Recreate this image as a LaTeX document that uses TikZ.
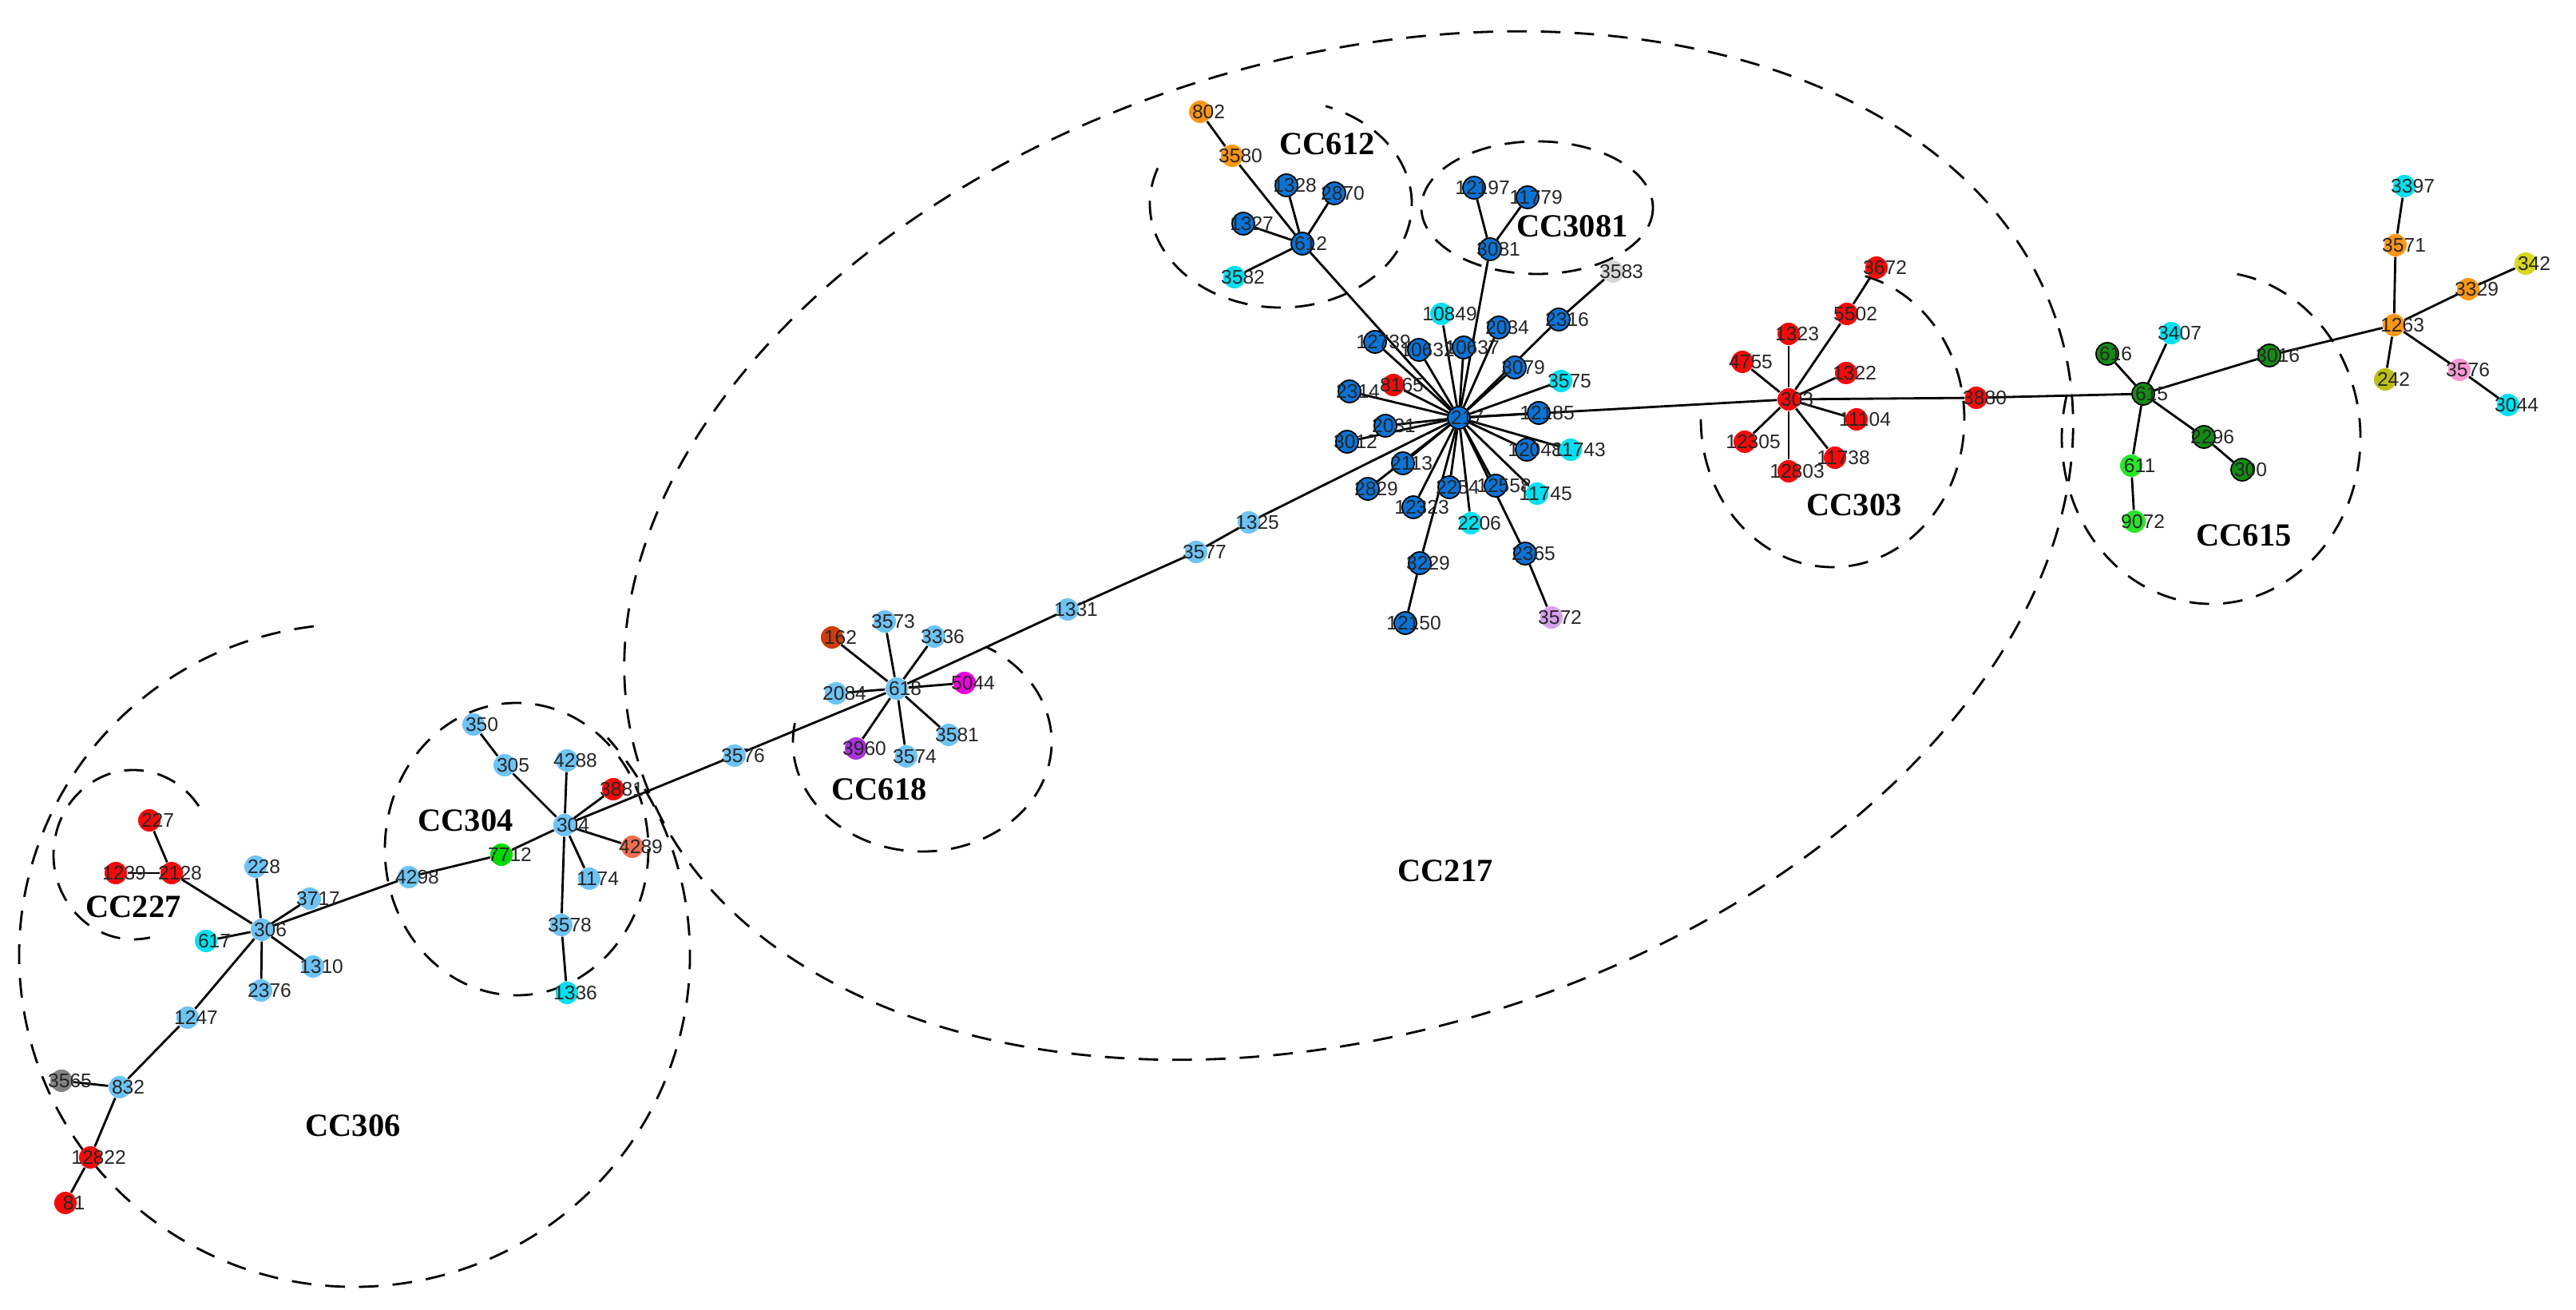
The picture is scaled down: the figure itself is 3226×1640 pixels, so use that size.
\documentclass[tikz,border=0pt]{standalone}
\usepackage{fontspec}
\setmainfont{Liberation Serif}
\newfontfamily\labfont{Liberation Sans}
\usetikzlibrary{backgrounds}
\definecolor{dblue}{RGB}{10,115,215}
\definecolor{lblue}{RGB}{110,195,245}
\definecolor{cyanc}{RGB}{0,225,240}
\definecolor{redc}{RGB}{245,10,10}
\definecolor{orc}{RGB}{255,150,20}
\definecolor{dgreen}{RGB}{20,140,20}
\definecolor{lgreen}{RGB}{40,230,40}
\definecolor{olive}{RGB}{190,190,20}
\definecolor{yel}{RGB}{215,215,30}
\definecolor{pinkc}{RGB}{250,150,210}
\definecolor{magc}{RGB}{240,0,220}
\definecolor{purc}{RGB}{170,50,220}
\definecolor{lilac}{RGB}{215,160,235}
\definecolor{brownred}{RGB}{205,60,10}
\definecolor{salmon}{RGB}{240,110,80}
\definecolor{grayc}{RGB}{130,130,130}
\definecolor{lgray}{RGB}{215,215,215}
\tikzset{
 st/.style={circle,inner sep=0pt,minimum size=0.28cm},
 B/.style={st,fill=dblue,draw=black,line width=0.5pt},
 L/.style={st,fill=lblue},
 C/.style={st,fill=cyanc},
 R/.style={st,fill=redc},
 O/.style={st,fill=orc},
 G/.style={st,fill=dgreen,draw=black,line width=0.5pt},
 LG/.style={st,fill=lgreen},
 lab/.style={font=\labfont\fontsize{7}{8}\selectfont,text=black!85,inner sep=0pt},
 cc/.style={font=\bfseries\fontsize{11.5}{12}\selectfont},
 grp/.style={draw=black,dashed,dash pattern=on 7pt off 5pt,line width=0.8pt},
 ed/.style={draw=black,line width=0.8pt}
}
\newcommand\ST[4]{\node[#3] (#1) at (#2) {};\node[lab] at ([xshift=3pt]#1.center) {#4};}
\begin{document}
\begin{tikzpicture}[x=0.01cm,y=-0.01cm]
\useasboundingbox (0,0) rectangle (3226,1640);
% groups
\draw[grp,rotate around={17:(1689,683)}] (1689,683) ellipse [x radius=930,y radius=610];
\draw[grp] (1604,255) ++(-160:164 and 130) arc[start angle=-160,end angle=-430,x radius=164,y radius=130];
\draw[grp] (1925,260) ellipse [x radius=145,y radius=83];
\draw[grp] (2295,525) ++(-180:165 and 185) arc[start angle=-180,end angle=-440,x radius=165,y radius=185];
\draw[grp] (1155,929) ++(-170:162 and 137) arc[start angle=-170,end angle=-420,x radius=162,y radius=137];
\draw[grp] (647,1063) ellipse [x radius=165,y radius=183];
\draw[grp] (167,1070) ++(-35:100 and 106) arc[start angle=-35,end angle=-282,x radius=100,y radius=106];
\draw[grp] (444,1196) ++(-97:420 and 415) arc[start angle=-97,end angle=-401,x radius=420,y radius=415];
\draw[grp] (2769,548) ++(-80:187 and 208) arc[start angle=-80,end angle=200,x radius=187,y radius=208];
% CC labels
\node[cc] at (1662,180) {CC612};
\node[cc] at (1969,283) {CC3081};
\node[cc] at (2322,632) {CC303};
\node[cc] at (2810,670) {CC615};
\node[cc] at (1810,1090) {CC217};
\node[cc] at (1101,988) {CC618};
\node[cc] at (583,1027) {CC304};
\node[cc] at (167,1135) {CC227};
\node[cc] at (442,1409) {CC306};
% CC217 hub
\ST{h217}{1827,523}{B}{217}
\ST{n10849}{1805,393}{C}{10849}
\ST{n3583}{2020,340}{st,fill=lgray}{3583}
\ST{n12739}{1722,428}{B}{12739}
\ST{n10632}{1777,438}{B}{10632}
\ST{n10637}{1833,435}{B}{10637}
\ST{n2034}{1877,410}{B}{2034}
\ST{n2316}{1952,400}{B}{2316}
\ST{n3079}{1897,460}{B}{3079}
\ST{n3575}{1955,477}{C}{3575}
\ST{n8165}{1745,482}{R}{8165}
\ST{n2314}{1690,490}{B}{2314}
\ST{n12185}{1927,517}{B}{12185}
\ST{n2031}{1735,533}{B}{2031}
\ST{n3012}{1687,553}{B}{3012}
\ST{n12048}{1912,563}{B}{12048}
\ST{n11743}{1967,563}{C}{11743}
\ST{n2113}{1757,580}{B}{2113}
\ST{n2829}{1713,612}{B}{2829}
\ST{n2254}{1815,610}{B}{2254}
\ST{n12558}{1873,608}{B}{12558}
\ST{n11745}{1925,618}{C}{11745}
\ST{n12323}{1770,635}{B}{12323}
\ST{n2206}{1842,655}{C}{2206}
\ST{n3229}{1778,705}{B}{3229}
\ST{n2365}{1910,693}{B}{2365}
\ST{n12150}{1760,780}{B}{12150}
\ST{n3572}{1943,773}{st,fill=lilac}{3572}
% CC612
\ST{h612}{1631,305}{B}{612}
\ST{n802}{1503,140}{O}{802}
\ST{n3580}{1543,195}{O}{3580}
\ST{n1328}{1611,232}{B}{1328}
\ST{n2870}{1671,242}{B}{2870}
\ST{n1327}{1557,280}{B}{1327}
\ST{n3582}{1546,347}{C}{3582}
% CC3081
\ST{h3081}{1866,312}{B}{3081}
\ST{n12197}{1846,235}{B}{12197}
\ST{n11779}{1913,247}{B}{11779}
% CC303
\ST{h303}{2240,500}{R}{303}
\ST{n3672}{2350,335}{R}{3672}
\ST{n5502}{2313,393}{R}{5502}
\ST{n1323}{2240,418}{R}{1323}
\ST{n4755}{2182,453}{R}{4755}
\ST{n1322}{2312,467}{R}{1322}
\ST{n11104}{2325,525}{R}{11104}
\ST{n12305}{2185,553}{R}{12305}
\ST{n12803}{2240,590}{R}{12803}
\ST{n11738}{2298,573}{R}{11738}
\ST{n3880}{2475,498}{R}{3880}
% CC615
\ST{h615}{2684,493}{G}{615}
\ST{n616}{2639,443}{G}{616}
\ST{n3407}{2719,417}{C}{3407}
\ST{n3016}{2842,445}{G}{3016}
\ST{n2296}{2760,547}{G}{2296}
\ST{n300}{2808,588}{G}{300}
\ST{n611}{2669,583}{LG}{611}
\ST{n9072}{2673,653}{LG}{9072}
\ST{h1263}{2998,407}{O}{1263}
\ST{n3571}{3000,307}{O}{3571}
\ST{n3397}{3011,233}{C}{3397}
\ST{n3329}{3091,362}{O}{3329}
\ST{n342}{3163,330}{st,fill=yel}{342}
\ST{n242}{2987,475}{st,fill=olive}{242}
\ST{n3576b}{3080,463}{st,fill=pinkc}{3576}
\ST{n3044}{3141,507}{C}{3044}
% chain
\ST{n1325}{1564,654}{L}{1325}
\ST{n3577}{1498,691}{L}{3577}
\ST{n1331}{1337,763}{L}{1331}
% CC618
\ST{h618}{1123,862}{L}{618}
\ST{n162}{1042,798}{st,fill=brownred}{162}
\ST{n3573}{1108,778}{L}{3573}
\ST{n3336}{1170,797}{L}{3336}
\ST{n2084}{1047,868}{L}{2084}
\ST{n5044}{1208,855}{st,fill=magc}{5044}
\ST{n3581}{1188,920}{L}{3581}
\ST{n3960}{1072,937}{st,fill=purc}{3960}
\ST{n3574}{1135,947}{L}{3574}
\ST{n3576}{920,946}{L}{3576}
% CC304
\ST{h304}{707,1033}{L}{304}
\ST{n350}{593,907}{L}{350}
\ST{n305}{632,958}{L}{305}
\ST{n4288}{710,952}{L}{4288}
\ST{n3881}{768,988}{R}{3881}
\ST{n4289}{792,1060}{st,fill=salmon}{4289}
\ST{n7712}{628,1070}{st,fill=green!85!black}{7712}
\ST{n1174}{738,1100}{L}{1174}
\ST{n4298}{512,1098}{L}{4298}
\ST{n3578}{703,1158}{L}{3578}
\ST{n1336}{710,1243}{C}{1336}
% CC306 / CC227
\ST{h306}{328,1164}{L}{306}
\ST{n227}{187,1027}{R}{227}
\ST{n1239}{145,1093}{R}{1239}
\ST{n2128}{215,1093}{R}{2128}
\ST{n228}{320,1085}{L}{228}
\ST{n3717}{388,1125}{L}{3717}
\ST{n617}{258,1178}{C}{617}
\ST{n1310}{392,1210}{L}{1310}
\ST{n2376}{327,1240}{L}{2376}
\ST{n1247}{235,1274}{L}{1247}
\ST{n832}{150,1361}{L}{832}
\ST{n3565}{77,1353}{st,fill=grayc}{3565}
\ST{n12822}{113,1449}{R}{12822}
\ST{n81}{82,1506}{R}{81}
% edges
\begin{pgfonlayer}{background}
\foreach \t in {n10849,h3081,n12739,n10632,n10637,n2034,n2316,n3079,n3575,n8165,n2314,n12185,n2031,n3012,n12048,n11743,n2113,n2829,n2254,n12558,n11745,n12323,n2206,n3229,n2365,h612,n1325,h303}
  \draw[ed] (h217) -- (\t);
\draw[ed] (n2316) -- (n3583);
\draw[ed] (n3229) -- (n12150);
\draw[ed] (n2365) -- (n3572);
\foreach \t in {n3580,n1328,n2870,n1327,n3582} \draw[ed] (h612) -- (\t);
\draw[ed] (n3580) -- (n802);
\foreach \t in {n12197,n11779} \draw[ed] (h3081) -- (\t);
\foreach \t in {n5502,n1323,n4755,n1322,n11104,n12305,n12803,n11738,n3880} \draw[ed] (h303) -- (\t);
\draw[ed] (n5502) -- (n3672);
\draw[ed] (n3880) -- (h615);
\foreach \t in {n616,n3407,n3016,n2296,n611} \draw[ed] (h615) -- (\t);
\draw[ed] (n2296) -- (n300);
\draw[ed] (n611) -- (n9072);
\draw[ed] (n3016) -- (h1263);
\foreach \t in {n3571,n3329,n242,n3576b} \draw[ed] (h1263) -- (\t);
\draw[ed] (n3571) -- (n3397);
\draw[ed] (n3329) -- (n342);
\draw[ed] (n3576b) -- (n3044);
\draw[ed] (n1325) -- (n3577) -- (n1331) -- (h618);
\foreach \t in {n162,n3573,n3336,n2084,n5044,n3581,n3960,n3574,n3576} \draw[ed] (h618) -- (\t);
\draw[ed] (n3576) -- (h304);
\foreach \t in {n305,n4288,n3881,n4289,n7712,n1174,n3578} \draw[ed] (h304) -- (\t);
\draw[ed] (n305) -- (n350);
\draw[ed] (n3578) -- (n1336);
\draw[ed] (n7712) -- (n4298) -- (h306);
\foreach \t in {n2128,n228,n3717,n617,n1310,n2376,n1247} \draw[ed] (h306) -- (\t);
\draw[ed] (n2128) -- (n227);
\draw[ed] (n2128) -- (n1239);
\draw[ed] (n1247) -- (n832) -- (n3565);
\draw[ed] (n832) -- (n12822) -- (n81);
\end{pgfonlayer}
\end{tikzpicture}
\end{document}
